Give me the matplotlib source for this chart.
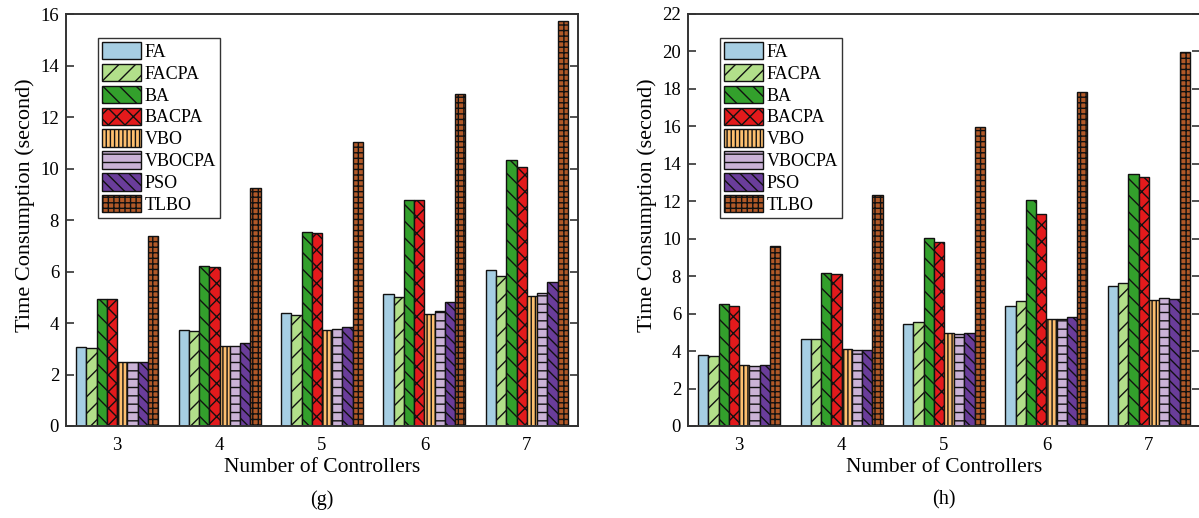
import matplotlib
matplotlib.use("Agg")
import matplotlib.pyplot as plt
import numpy as np

plt.rcParams['font.family'] = ['Liberation Serif', 'DejaVu Serif']
plt.rcParams['hatch.linewidth'] = 1.0

controllers = [3, 4, 5, 6, 7]
algorithms = ["FA", "FACPA", "BA", "BACPA", "VBO", "VBOCPA", "PSO", "TLBO"]

# panel (g)
g_FA     = [3.08, 3.73, 4.38, 5.14, 6.05]
g_FACPA  = [3.02, 3.67, 4.31, 5.01, 5.84]
g_BA     = [4.92, 6.20, 7.53, 8.76, 10.32]
g_BACPA  = [4.92, 6.18, 7.49, 8.76, 10.05]
g_VBO    = [2.47, 3.10, 3.74, 4.35, 5.03]
g_VBOCPA = [2.47, 3.12, 3.76, 4.46, 5.17]
g_PSO    = [2.47, 3.24, 3.86, 4.81, 5.58]
g_TLBO   = [7.38, 9.26, 11.01, 12.91, 15.71]

# panel (h)
h_FA     = [3.78, 4.63, 5.45, 6.39, 7.45]
h_FACPA  = [3.72, 4.67, 5.56, 6.70, 7.66]
h_BA     = [6.54, 8.18, 10.06, 12.06, 13.48]
h_BACPA  = [6.43, 8.12, 9.80, 11.31, 13.31]
h_VBO    = [3.28, 4.11, 4.95, 5.74, 6.73]
h_VBOCPA = [3.21, 4.08, 4.90, 5.70, 6.86]
h_PSO    = [3.24, 4.04, 4.95, 5.81, 6.77]
h_TLBO   = [9.60, 12.33, 15.98, 17.81, 19.97]

colors = ["#a6cee3", "#b2df8a", "#33a02c", "#e31a1c",
          "#fdbf6f", "#cab2d6", "#6a3d9a", "#b15928"]
hatches = [None, "//", "\\\\", "xx", "||||", "--", "\\\\\\", "+++"]

W, H = 1199, 518
fig = plt.figure(figsize=(W / 100, H / 100), dpi=100)

def px_axes(x0, x1, y0, y1):
    return fig.add_axes([x0 / W, 1 - y1 / H, (x1 - x0) / W, (y1 - y0) / H])

ax_g = px_axes(66, 578, 14, 426)
ax_h = px_axes(688, 1200, 14, 426)

panels = [
    (ax_g, [g_FA, g_FACPA, g_BA, g_BACPA, g_VBO, g_VBOCPA, g_PSO, g_TLBO], 16, "(g)"),
    (ax_h, [h_FA, h_FACPA, h_BA, h_BACPA, h_VBO, h_VBOCPA, h_PSO, h_TLBO], 22, "(h)"),
]

bw = 0.1
x = np.array(controllers, dtype=float)
for ax, series, ymax, tag in panels:
    for i, (name, vals) in enumerate(zip(algorithms, series)):
        off = (i - 3.5) * bw
        ax.bar(x + off, vals, width=bw, color=colors[i], hatch=hatches[i],
               edgecolor="#111111", linewidth=1.0, label=name)
    ax.set_xlim(2.5, 7.5)
    ax.set_ylim(0, ymax)
    ax.set_yticks(np.arange(0, ymax + 0.1, 2))
    ax.set_xticks(controllers)
    ax.tick_params(axis='y', direction='in', length=6, width=1.2,
                   left=True, right=True, labelsize=13.5, pad=5, color="#333333")
    ax.tick_params(axis='x', length=0, labelsize=13.5, pad=8)
    for s in ax.spines.values():
        s.set_linewidth(1.4)
        s.set_color("#333333")
    ax.set_xlabel("Number of Controllers", fontsize=15.5, labelpad=3)
    ax.set_ylabel("Time Consumption (second)", fontsize=16, labelpad=4)
    ax.yaxis.label.set_y(0.535)
    leg = ax.legend(loc="upper left", bbox_to_anchor=(32 / 512, 1 - 24 / 412),
                    borderaxespad=0, fontsize=13, fancybox=False,
                    edgecolor="#333333", framealpha=1,
                    handlelength=2.15, handleheight=1.1, labelspacing=0.17,
                    handletextpad=0.2, borderpad=0.22)
    leg.get_frame().set_linewidth(1.0)
    bb = ax.get_position()
    fig.text((bb.x0 + bb.x1) / 2, 1 - 500 / H, tag, ha="center", va="center",
             fontsize=14.5)

fig.savefig("out.png", dpi=100)
